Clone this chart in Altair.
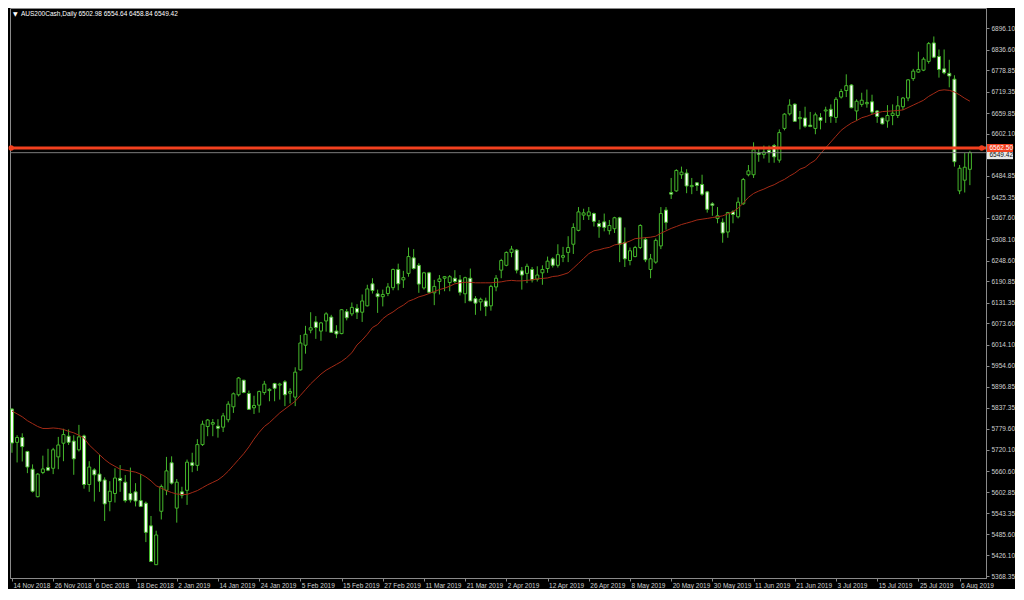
import altair as alt
import pandas as pd

# ---------------- data ----------------
opens = [5834.3, 5741.4, 5755.0, 5715.9, 5666.4, 5589.8, 5657.4, 5671.0, 5669.1, 5700.8,
         5739.0, 5758.5, 5744.9, 5720.6, 5759.3, 5623.8, 5664.5, 5652.8, 5636.5, 5576.2,
         5598.7, 5641.1, 5630.3, 5598.7, 5603.3, 5578.9, 5571.6, 5508.5, 5400.1, 5549.1,
         5607.6, 5684.4, 5558.0, 5603.3, 5607.6, 5684.4, 5677.2, 5735.1, 5785.5, 5792.1,
         5786.4, 5783.7, 5804.5, 5840.5, 5874.1, 5914.8, 5877.7, 5837.8, 5845.1, 5880.4,
         5885.8, 5905.6, 5901.2, 5910.2, 5878.5, 5867.6, 5943.5, 6012.3, 6054.5, 6077.3,
         6051.8, 6080.0, 6090.8, 6051.8, 6044.8, 6106.0, 6099.8, 6115.2, 6104.4, 6122.2,
         6183.7, 6155.8, 6147.7, 6156.6, 6172.9, 6223.6, 6194.6, 6212.7, 6256.1, 6235.2,
         6172.1, 6214.3, 6158.5, 6190.0, 6199.2, 6187.3, 6199.2, 6194.6, 6155.8, 6199.2,
         6142.3, 6133.1, 6135.8, 6122.2, 6174.8, 6221.7, 6235.2, 6271.2, 6277.7, 6219.8,
         6212.7, 6223.6, 6196.5, 6214.3, 6226.2, 6253.3, 6235.2, 6257.7, 6271.2, 6294.0,
         6332.7, 6375.3, 6373.4, 6379.6, 6351.8, 6356.4, 6331.9, 6337.3, 6367.9, 6299.2,
         6248.7, 6259.6, 6284.8, 6307.5, 6223.6, 6244.1, 6289.4, 6389.3, 6438.3, 6442.8,
         6487.9, 6492.5, 6454.6, 6465.4, 6460.8, 6440.1, 6406.8, 6366.0, 6355.2, 6328.1,
         6384.2, 6370.6, 6406.8, 6487.9, 6487.9, 6548.6, 6544.8, 6556.2, 6569.3, 6528.6,
         6617.1, 6657.7, 6684.8, 6644.2, 6646.1, 6626.1, 6617.1, 6647.7, 6665.8, 6670.5,
         6647.7, 6704.6, 6722.7, 6738.2, 6665.8, 6684.1, 6685.9, 6691.4, 6665.8, 6646.1,
         6637.8, 6653.1, 6653.1, 6677.6, 6701.9, 6756.1, 6774.2, 6779.6, 6804.0, 6855.5,
         6817.6, 6783.2, 6770.7, 6754.4, 6442.9, 6472.7, 6502.98]

highs = [5837.0, 5761.2, 5766.6, 5717.8, 5679.9, 5655.5, 5704.3, 5723.3, 5726.0, 5756.6,
         5779.3, 5777.4, 5761.2, 5790.1, 5763.1, 5688.8, 5669.1, 5707.0, 5643.8, 5633.0,
         5669.1, 5678.0, 5650.1, 5671.0, 5627.6, 5652.8, 5576.2, 5536.0, 5494.9, 5623.8,
         5700.8, 5702.4, 5639.2, 5617.5, 5693.4, 5712.4, 5750.3, 5801.8, 5806.4, 5806.4,
         5805.9, 5823.5, 5856.0, 5880.4, 5923.7, 5915.6, 5885.8, 5871.4, 5885.8, 5912.9,
         5892.0, 5907.5, 5907.5, 5914.8, 5892.0, 5950.8, 6041.0, 6066.4, 6104.4, 6093.5,
         6077.3, 6104.4, 6097.1, 6068.1, 6113.3, 6113.3, 6131.5, 6126.8, 6153.9, 6181.0,
         6199.2, 6167.5, 6167.5, 6185.6, 6226.2, 6239.8, 6219.8, 6284.8, 6280.4, 6241.4,
         6217.0, 6217.0, 6194.6, 6208.1, 6205.4, 6208.1, 6221.7, 6208.1, 6203.5, 6226.2,
         6149.3, 6145.0, 6145.0, 6181.0, 6208.1, 6253.3, 6273.9, 6289.4, 6280.4, 6230.6,
         6239.8, 6230.6, 6232.5, 6235.2, 6259.6, 6257.7, 6293.9, 6286.7, 6316.4, 6352.5,
         6397.7, 6393.1, 6397.7, 6382.3, 6361.7, 6379.6, 6361.7, 6370.6, 6370.6, 6340.8,
         6284.8, 6289.4, 6349.8, 6313.8, 6266.9, 6310.2, 6397.7, 6397.7, 6478.9, 6503.2,
         6510.5, 6503.3, 6478.9, 6467.3, 6487.9, 6442.8, 6411.3, 6397.7, 6366.0, 6384.2,
         6388.8, 6424.8, 6478.9, 6515.0, 6578.3, 6560.2, 6569.3, 6569.3, 6573.8, 6614.4,
         6659.6, 6698.4, 6686.7, 6665.8, 6677.6, 6663.1, 6661.3, 6659.6, 6677.6, 6684.1,
         6704.6, 6727.4, 6768.0, 6740.9, 6698.3, 6716.6, 6725.5, 6711.1, 6668.5, 6647.7,
         6682.1, 6684.1, 6707.4, 6704.6, 6754.4, 6783.2, 6831.1, 6815.7, 6858.2, 6873.6,
         6837.3, 6837.3, 6808.6, 6765.3, 6515.0, 6548.6, 6554.64]

lows = [5712.4, 5685.3, 5688.0, 5655.5, 5601.4, 5587.9, 5652.8, 5661.0, 5652.8, 5666.4,
        5688.8, 5734.1, 5650.9, 5715.9, 5612.2, 5603.3, 5576.2, 5603.3, 5521.9, 5549.1,
        5573.5, 5603.3, 5573.5, 5573.5, 5562.6, 5560.7, 5463.2, 5407.1, 5400.1, 5526.2,
        5594.1, 5623.8, 5517.4, 5585.0, 5566.9, 5658.2, 5661.8, 5731.4, 5758.5, 5758.5,
        5754.5, 5770.1, 5797.2, 5823.5, 5869.5, 5878.5, 5831.6, 5820.5, 5824.3, 5874.1,
        5856.0, 5856.0, 5860.6, 5842.4, 5849.7, 5842.4, 5941.9, 5988.7, 6045.6, 6030.1,
        6024.7, 6050.2, 6047.0, 6032.0, 6042.9, 6081.6, 6093.5, 6085.4, 6077.3, 6120.6,
        6156.6, 6102.5, 6120.6, 6149.3, 6165.6, 6165.6, 6172.1, 6203.5, 6223.6, 6158.5,
        6167.5, 6158.5, 6124.1, 6153.9, 6162.9, 6162.9, 6185.6, 6151.2, 6129.6, 6135.8,
        6097.1, 6108.7, 6093.5, 6108.7, 6162.9, 6199.2, 6232.5, 6257.7, 6212.7, 6167.5,
        6185.6, 6187.3, 6190.0, 6181.0, 6214.3, 6229.0, 6229.0, 6244.1, 6244.1, 6266.9,
        6330.0, 6361.7, 6361.7, 6343.6, 6312.0, 6330.0, 6321.0, 6325.4, 6244.1, 6230.6,
        6235.2, 6257.7, 6280.4, 6244.1, 6199.2, 6239.8, 6280.4, 6334.6, 6420.3, 6440.1,
        6476.3, 6436.4, 6433.7, 6442.8, 6429.4, 6382.2, 6373.4, 6352.5, 6298.3, 6312.0,
        6352.5, 6366.0, 6404.1, 6483.4, 6478.9, 6524.1, 6533.2, 6521.4, 6521.4, 6521.4,
        6611.7, 6653.1, 6636.9, 6614.4, 6619.0, 6620.6, 6600.9, 6614.4, 6632.6, 6632.6,
        6632.6, 6700.3, 6704.6, 6673.2, 6638.8, 6677.6, 6674.8, 6657.0, 6632.6, 6628.0,
        6619.0, 6626.1, 6646.1, 6668.6, 6693.0, 6749.8, 6772.3, 6776.9, 6797.8, 6813.0,
        6758.8, 6768.0, 6731.7, 6510.6, 6433.7, 6438.3, 6458.84]

closes = [5739.5, 5755.0, 5729.5, 5672.6, 5604.9, 5652.8, 5667.2, 5663.7, 5720.6, 5734.1,
          5763.1, 5741.4, 5695.4, 5756.6, 5623.8, 5672.6, 5650.9, 5633.0, 5569.7, 5604.9,
          5641.9, 5634.6, 5578.9, 5580.5, 5577.8, 5562.6, 5490.3, 5409.0, 5483.0, 5618.4,
          5661.8, 5627.6, 5630.3, 5594.1, 5686.1, 5677.2, 5735.1, 5792.1, 5803.7, 5796.6,
          5780.8, 5815.3, 5847.9, 5876.8, 5920.9, 5880.4, 5833.5, 5844.3, 5883.1, 5903.9,
          5889.3, 5892.0, 5903.9, 5874.1, 5883.1, 5937.2, 6018.5, 6042.9, 6061.0, 6061.8,
          6074.6, 6099.8, 6048.3, 6043.7, 6111.4, 6088.9, 6117.9, 6104.4, 6135.8, 6169.4,
          6164.8, 6147.7, 6153.9, 6174.8, 6223.6, 6183.7, 6200.8, 6259.6, 6226.2, 6182.9,
          6214.3, 6160.1, 6176.4, 6197.3, 6203.5, 6203.5, 6190.0, 6160.1, 6200.8, 6135.8,
          6129.6, 6140.4, 6120.6, 6176.4, 6199.2, 6248.7, 6271.2, 6280.4, 6221.7, 6208.1,
          6232.5, 6194.6, 6208.1, 6223.6, 6246.8, 6235.2, 6265.0, 6262.3, 6284.8, 6340.8,
          6384.2, 6381.5, 6384.2, 6357.9, 6342.9, 6341.0, 6346.3, 6367.9, 6294.0, 6253.3,
          6275.8, 6284.8, 6346.3, 6250.6, 6253.3, 6304.8, 6379.6, 6355.2, 6433.7, 6499.8,
          6495.2, 6456.5, 6458.1, 6458.1, 6433.7, 6391.4, 6402.5, 6373.4, 6325.4, 6382.3,
          6376.9, 6411.3, 6474.4, 6498.7, 6557.5, 6544.8, 6551.3, 6549.2, 6537.8, 6605.4,
          6656.9, 6682.1, 6636.9, 6647.7, 6623.4, 6622.5, 6655.0, 6639.6, 6668.6, 6650.4,
          6698.4, 6720.0, 6736.3, 6674.8, 6692.9, 6695.7, 6689.6, 6662.7, 6650.4, 6629.9,
          6653.1, 6659.6, 6680.2, 6701.9, 6752.6, 6776.9, 6781.5, 6810.3, 6853.6, 6815.7,
          6781.5, 6772.3, 6763.4, 6524.2, 6506.1, 6508.8, 6549.42]

ma20 = [5828.9, 5820.8, 5812.7, 5801.8, 5793.7, 5785.6, 5780.1, 5780.1, 5781.5, 5780.1,
        5777.4, 5772.0, 5768.0, 5761.2, 5753.1, 5734.1, 5720.6, 5707.0, 5693.5, 5682.6,
        5674.5, 5666.4, 5663.7, 5661.0, 5658.2, 5652.8, 5644.7, 5633.9, 5620.3, 5613.6,
        5606.8, 5601.4, 5597.3, 5596.0, 5596.0, 5601.4, 5606.8, 5614.9, 5623.0, 5629.8,
        5636.6, 5647.4, 5661.0, 5677.2, 5693.5, 5709.7, 5728.7, 5750.3, 5769.3, 5785.6,
        5796.4, 5810.0, 5823.5, 5834.3, 5845.2, 5856.0, 5872.2, 5888.5, 5904.7, 5918.3,
        5931.8, 5942.7, 5950.8, 5958.9, 5967.0, 5977.9, 5991.4, 6013.1, 6026.6, 6042.9,
        6061.8, 6070.0, 6086.2, 6097.1, 6105.2, 6116.0, 6124.1, 6135.0, 6140.4, 6147.2,
        6151.2, 6156.6, 6162.1, 6167.5, 6171.5, 6176.9, 6183.7, 6186.4, 6187.8, 6187.8,
        6186.4, 6186.4, 6186.4, 6186.4, 6187.8, 6189.1, 6191.9, 6193.2, 6191.9, 6191.9,
        6193.2, 6194.6, 6197.3, 6198.6, 6200.0, 6204.0, 6205.4, 6209.5, 6214.3, 6227.1,
        6240.6, 6254.2, 6267.7, 6275.8, 6278.5, 6282.6, 6285.3, 6292.1, 6294.8, 6297.5,
        6302.9, 6309.7, 6311.0, 6312.4, 6313.7, 6316.5, 6324.6, 6331.4, 6338.1, 6343.5,
        6349.0, 6353.0, 6357.1, 6361.7, 6363.9, 6366.0, 6368.5, 6370.6, 6373.3, 6378.8,
        6384.2, 6395.0, 6408.6, 6424.8, 6435.6, 6442.4, 6447.8, 6454.6, 6460.0, 6468.1,
        6474.9, 6484.4, 6492.5, 6503.4, 6508.8, 6519.6, 6528.6, 6546.7, 6562.9, 6579.2,
        6595.5, 6611.7, 6622.5, 6632.0, 6638.8, 6646.9, 6651.0, 6656.4, 6660.5, 6664.0,
        6665.1, 6665.9, 6667.2, 6668.6, 6675.4, 6682.1, 6688.9, 6695.7, 6706.5, 6714.6,
        6722.8, 6724.7, 6723.3, 6718.7, 6710.6, 6701.1, 6693.0]

date_labels = ["14 Nov 2018", "26 Nov 2018", "6 Dec 2018", "18 Dec 2018", "2 Jan 2019",
               "14 Jan 2019", "24 Jan 2019", "5 Feb 2019", "15 Feb 2019", "27 Feb 2019",
               "11 Mar 2019", "21 Mar 2019", "2 Apr 2019", "12 Apr 2019", "26 Apr 2019",
               "8 May 2019", "20 May 2019", "30 May 2019", "11 Jun 2019", "21 Jun 2019",
               "3 Jul 2019", "15 Jul 2019", "25 Jul 2019", "6 Aug 2019"]
date_step = 8

price_ticks = [6896.10, 6836.60, 6778.85, 6719.35, 6659.85, 6602.10, 6484.85, 6425.35,
               6367.60, 6308.10, 6248.60, 6190.85, 6131.35, 6073.60, 6014.10, 5954.60,
               5896.85, 5837.35, 5779.60, 5720.10, 5660.60, 5602.85, 5543.35, 5485.60,
               5426.10, 5368.35]

level_price = 6562.50
symbol_title = "AUS200Cash,Daily  6502.98 6554.64 6458.84 6549.42"

# ---------------- chart ----------------
W, H = 976, 570
FONT = "Liberation Sans"
GREEN = "#45b82b"
TXT = "#d0d0d0"
GRAY = "#8a8a8a"

n = len(opens)
df = pd.DataFrame({"i": list(range(n)), "open": opens, "high": highs,
                   "low": lows, "close": closes, "ma": ma20})

xs = alt.Scale(domain=[-0.38, 189.13], nice=False, zero=False, padding=0)
ys = alt.Scale(domain=[5363.0, 6953.0], nice=False, zero=False, padding=0)

label_js = "[" + ",".join("'" + d + "'" for d in date_labels) + "]"
x_axis = alt.Axis(values=[k * date_step for k in range(len(date_labels))],
                  labelExpr=f"{label_js}[round(datum.value/{date_step})]",
                  orient="bottom", grid=False, title=None, tickSize=3,
                  labelAlign="left", labelOffset=1, labelPadding=1, labelFlush=False,
                  labelOverlap=False, labelFont=FONT, labelFontSize=6.5,
                  labelColor=TXT, domainColor=GRAY, tickColor=GRAY)
y_axis = alt.Axis(values=price_ticks, format=".2f", orient="right", grid=False,
                  title=None, tickSize=3, labelPadding=2, labelOverlap=False,
                  labelFlush=False, labelFont=FONT, labelFontSize=6.5,
                  labelColor=TXT, domainColor=GRAY, tickColor=GRAY)


def X(field):
    return alt.X(field, scale=xs, title=None, axis=x_axis)


def Y(field):
    return alt.Y(field, scale=ys, title=None, axis=y_axis)


base = alt.Chart(df)

wicks = base.mark_rule(color=GREEN, strokeWidth=1).encode(
    x=X("i:Q"), y=Y("low:Q"), y2="high:Q",
)

bodies = base.mark_bar(width=3, stroke=GREEN, strokeWidth=1).encode(
    x=X("i:Q"), y=Y("open:Q"), y2="close:Q",
    fill=alt.condition("datum.close >= datum.open", alt.value("#000000"), alt.value("#ffffff")),
)

ma_line = base.mark_line(color="#a32a16", strokeWidth=1).encode(
    x=X("i:Q"), y=Y("ma:Q"),
)

bid_line = alt.Chart(pd.DataFrame({"p": [closes[-1]]})).mark_rule(
    color="#7c7c7c", strokeWidth=1).encode(y=Y("p:Q"))

level_df = pd.DataFrame({"p": [level_price]})
level_line = alt.Chart(level_df).mark_rule(color="#f2401f", strokeWidth=3).encode(
    y=Y("p:Q"))

ends_df = pd.DataFrame({"i": [-0.15, 188.3], "p": [level_price, level_price]})
level_ends = alt.Chart(ends_df).mark_point(filled=True, shape="circle", size=28,
                                           color="#f2401f", opacity=1).encode(
    x=X("i:Q"), y=Y("p:Q"))

bid_df = pd.DataFrame({"p": [closes[-1]], "t": [f"{closes[-1]:.2f}"]})
bid_box = alt.Chart(bid_df).mark_rect(color="#e8e8e8", yOffset=-1.5, y2Offset=6.5, clip=False).encode(
    x=alt.value(W + 1), x2=alt.value(W + 27), y=Y("p:Q"), y2="p:Q")
bid_txt = alt.Chart(bid_df).mark_text(font=FONT, fontSize=6.5, color="#111111",
                                      align="left", baseline="middle", dx=2.5, dy=2.5,
                                      clip=False).encode(
    x=alt.value(W + 1), y=Y("p:Q"), text="t:N")

lvl_lab_df = pd.DataFrame({"p": [level_price], "t": [f"{level_price:.2f}"]})
lvl_box = alt.Chart(lvl_lab_df).mark_rect(color="#f2401f", yOffset=-4, y2Offset=4, clip=False).encode(
    x=alt.value(W + 1), x2=alt.value(W + 27), y=Y("p:Q"), y2="p:Q")
lvl_txt = alt.Chart(lvl_lab_df).mark_text(font=FONT, fontSize=6.5, color="#ffffff",
                                          align="left", baseline="middle", dx=2.5,
                                          clip=False).encode(
    x=alt.value(W + 1), y=Y("p:Q"), text="t:N")

title_df = pd.DataFrame({"t": [symbol_title]})
title_tri = alt.Chart(title_df).mark_text(text="\u25bc", font="DejaVu Sans", fontSize=6,
                                          color="#ffffff", align="left", baseline="middle").encode(
    x=alt.value(3), y=alt.value(6))
title_txt = alt.Chart(title_df).mark_text(font=FONT, fontSize=6.5, color="#ffffff",
                                          align="left", baseline="middle").encode(
    x=alt.value(11), y=alt.value(6), text="t:N")

chart = alt.layer(
    wicks, bodies, ma_line, bid_line, level_line, level_ends,
    bid_box, bid_txt, lvl_box, lvl_txt, title_tri, title_txt,
).properties(
    width=W, height=H, padding=0,
).configure(
    background="#000000",
).configure_axis(
    labelOverlap=False, labelFlush=False,
).configure_view(
    fill="#000000", stroke=GRAY, strokeWidth=1,
)

chart.save("out.html", embed_options={"renderer": "svg", "actions": False})
